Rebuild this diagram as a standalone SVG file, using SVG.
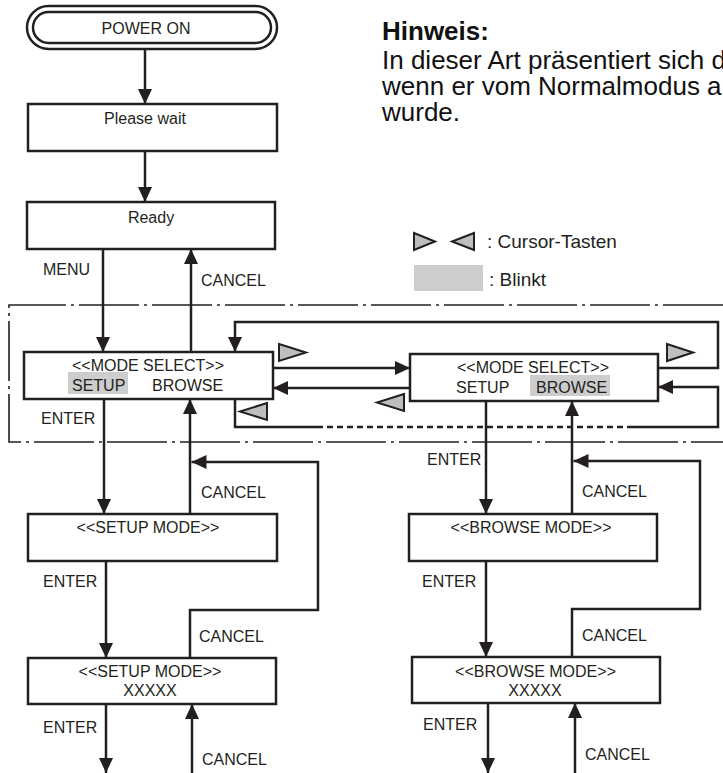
<svg xmlns="http://www.w3.org/2000/svg" width="723" height="773" viewBox="0 0 723 773">
<style>
  .box { fill: #ffffff; stroke: #231f20; stroke-width: 2.5; }
  .t { font-family: "Liberation Sans", Arial, sans-serif; font-size: 16px; fill: #231f20; }
  .c { text-anchor: middle; }
  .hl { fill: #cdcdcd; }
  .ln { fill: none; stroke: #231f20; stroke-width: 2.5; }
  .ar { marker-end: url(#ah); }
  .dash { fill: none; stroke: #231f20; stroke-width: 2.5; stroke-dasharray: 6 4; }
  .frame { fill: none; stroke: #231f20; stroke-width: 1.6; stroke-dasharray: 60 5 3 5; }
  .key { fill: #bcbec0; stroke: #231f20; stroke-width: 2; stroke-linejoin: miter; }
  .note { font-family: "Liberation Sans", Arial, sans-serif; font-size: 26px; fill: #111111; }
  .leg { font-family: "Liberation Sans", Arial, sans-serif; font-size: 19px; fill: #231f20; }
</style>
<defs>
  <marker id="ah" viewBox="0 0 15 14" refX="15" refY="7" markerWidth="15" markerHeight="14" markerUnits="userSpaceOnUse" orient="auto">
    <path d="M0,0 L15,7 L0,14 z" fill="#231f20"/>
  </marker>
</defs>

<g id="note">
  <text class="note" x="382" y="40" font-weight="bold">Hinweis:</text>
  <text class="note" x="382" y="69">In dieser Art präsentiert sich d</text>
  <text class="note" x="382" y="95">wenn er vom Normalmodus a</text>
  <text class="note" x="382" y="121">wurde.</text>
</g>

<g id="legend">
  <polygon class="key" points="414,233 435,241.5 414,250"/>
  <polygon class="key" points="474,233 452,241.5 474,250"/>
  <text class="leg" x="487" y="248">: Cursor-Tasten</text>
  <rect class="hl" x="414" y="265" width="69" height="26"/>
  <text class="leg" x="489" y="286">: Blinkt</text>
</g>

<g id="frame">
  <path class="frame" d="M723,305 H9 V442 H723"/>
</g>

<g id="connectors">
  <path class="ln ar" d="M145,49 V104"/>
  <path class="ln ar" d="M145,151 V202"/>
  <path class="ln ar" d="M103,249 V352"/>
  <path class="ln ar" d="M191,352 V249"/>
  <path class="ln ar" d="M104,399 V514"/>
  <path class="ln ar" d="M190,514 V399"/>
  <path class="ln ar" d="M190,658 V610 H318 V462 H191.5"/>
  <path class="ln ar" d="M106,561 V658"/>
  <path class="ln ar" d="M106,704 V773"/>
  <path class="ln ar" d="M192,773 V704"/>
  <path class="ln ar" d="M486,401 V514"/>
  <path class="ln ar" d="M572,514 V401"/>
  <path class="ln ar" d="M572,657 V609 H700 V461 H573.5"/>
  <path class="ln ar" d="M486,561 V657"/>
  <path class="ln ar" d="M488,703 V773"/>
  <path class="ln ar" d="M575,773 V703"/>
  <path class="ln ar" d="M273,368 H410"/>
  <path class="ln ar" d="M410,388 H273"/>
  <path class="ln ar" d="M658,368 H718 V322 H235 V352"/>
  <path class="ln" d="M235,399 V427 H317"/>
  <path class="dash" d="M317,427 H630"/>
  <path class="ln ar" d="M630,427 H718 V387 H658"/>
  <polygon class="key" points="279,344 306,352.5 279,361"/>
  <polygon class="key" points="667,344 693,352.5 667,361"/>
  <polygon class="key" points="267,403 240,411.5 267,420"/>
  <polygon class="key" points="404,394 377,402.5 404,411"/>
  <text class="t" x="43" y="275">MENU</text>
  <text class="t" x="201" y="286">CANCEL</text>
  <text class="t" x="41" y="424">ENTER</text>
  <text class="t" x="427" y="465">ENTER</text>
  <text class="t" x="201" y="498">CANCEL</text>
  <text class="t" x="582" y="497">CANCEL</text>
  <text class="t" x="43" y="587">ENTER</text>
  <text class="t" x="422" y="587">ENTER</text>
  <text class="t" x="199" y="642">CANCEL</text>
  <text class="t" x="582" y="641">CANCEL</text>
  <text class="t" x="43" y="733">ENTER</text>
  <text class="t" x="423" y="730">ENTER</text>
  <text class="t" x="202" y="765">CANCEL</text>
  <text class="t" x="585" y="760">CANCEL</text>
</g>

<g id="power-on">
  <rect class="box" x="27" y="6" width="250" height="43" rx="21.5"/>
  <rect class="box" x="33" y="12" width="238" height="31" rx="15.5"/>
  <text class="t c" x="146" y="34">POWER ON</text>
</g>

<g id="please-wait">
  <rect class="box" x="28" y="104" width="249" height="47"/>
  <text class="t c" x="145" y="124">Please wait</text>
</g>

<g id="ready">
  <rect class="box" x="27" y="202" width="248" height="47"/>
  <text class="t c" x="151" y="223">Ready</text>
</g>

<g id="mode-select-setup">
  <rect class="box" x="24" y="352" width="249" height="47"/>
  <rect class="hl" x="68" y="372" width="60" height="22"/>
  <text class="t c" x="148" y="371">&lt;&lt;MODE SELECT&gt;&gt;</text>
  <text class="t" x="72" y="391">SETUP</text>
  <text class="t" x="152" y="391">BROWSE</text>
</g>

<g id="mode-select-browse">
  <rect class="box" x="410" y="354" width="248" height="47"/>
  <rect class="hl" x="530" y="375" width="80" height="21"/>
  <text class="t c" x="533" y="373">&lt;&lt;MODE SELECT&gt;&gt;</text>
  <text class="t" x="456" y="393">SETUP</text>
  <text class="t" x="536" y="393">BROWSE</text>
</g>

<g id="setup-mode">
  <rect class="box" x="28" y="514" width="249" height="47"/>
  <text class="t c" x="148" y="533">&lt;&lt;SETUP MODE&gt;&gt;</text>
</g>

<g id="browse-mode">
  <rect class="box" x="409" y="514" width="248" height="47"/>
  <text class="t c" x="531" y="533">&lt;&lt;BROWSE MODE&gt;&gt;</text>
</g>

<g id="setup-mode-item">
  <rect class="box" x="28" y="658" width="248" height="46"/>
  <text class="t c" x="150" y="677">&lt;&lt;SETUP MODE&gt;&gt;</text>
  <text class="t c" x="150" y="696">XXXXX</text>
</g>

<g id="browse-mode-item">
  <rect class="box" x="412" y="657" width="248" height="46"/>
  <text class="t c" x="535.5" y="677">&lt;&lt;BROWSE MODE&gt;&gt;</text>
  <text class="t c" x="535" y="696">XXXXX</text>
</g>
</svg>
